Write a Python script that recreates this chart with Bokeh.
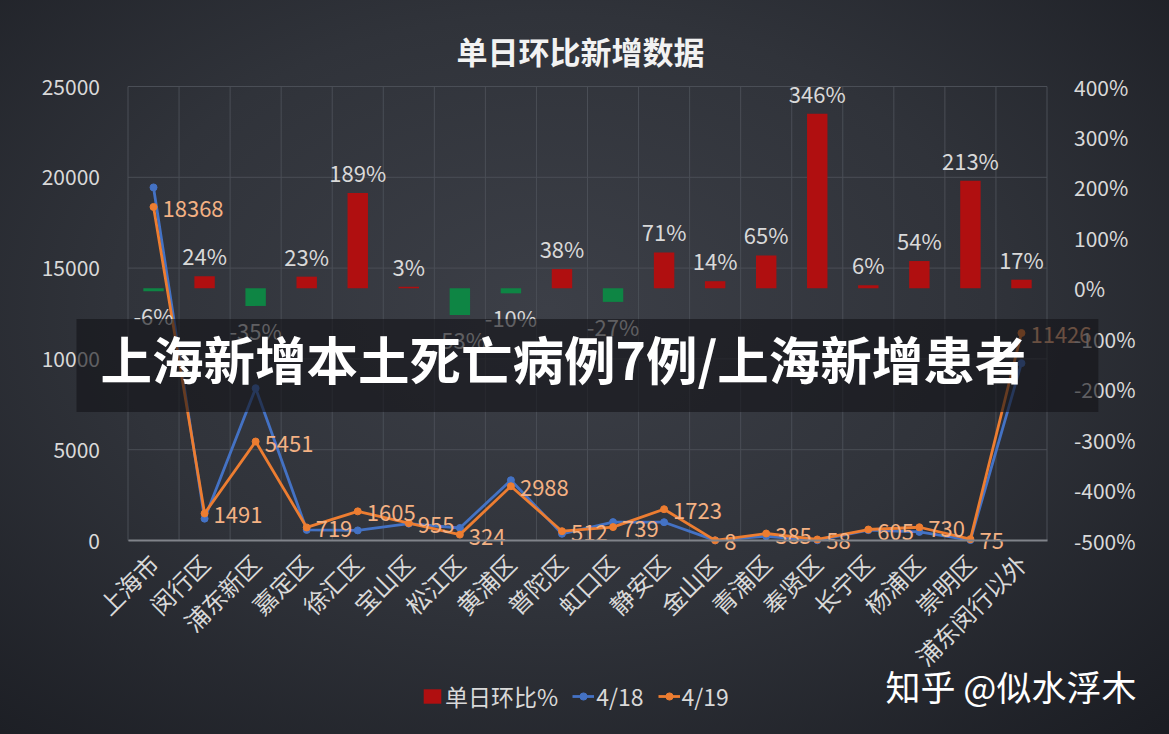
import math
from bokeh.plotting import figure
from bokeh.models import (ColumnDataSource, Range1d, LinearAxis, FixedTicker,
                          PrintfTickFormatter, Legend, LegendItem, Label)
from bokeh.embed import file_html
from bokeh.resources import INLINE

# ---------------- data ----------------
districts = ["上海市", "闵行区", "浦东新区", "嘉定区", "徐汇区", "宝山区", "松江区", "黄浦区",
             "普陀区", "虹口区", "静安区", "金山区", "青浦区", "奉贤区", "长宁区", "杨浦区",
             "崇明区", "浦东闵行以外"]
cases_0418 = [19442, 1202, 8386, 585, 555, 927, 689, 3320, 371, 1012, 1008, 7, 233, 13,
              571, 474, 24, 9766]
cases_0419 = [18368, 1491, 5451, 719, 1605, 955, 324, 2988, 512, 739, 1723, 8, 385, 58,
              605, 730, 75, 11426]
pct_change = [-6, 24, -35, 23, 189, 3, -53, -10, 38, -27, 71, 14, 65, 346, 6, 54, 213, 17]
left_ticks = [0, 5000, 10000, 15000, 20000, 25000]
right_ticks = [-500, -400, -300, -200, -100, 0, 100, 200, 300, 400]

title_text = "单日环比新增数据"
banner_text = "上海新增本土死亡病例7例/上海新增患者"
watermark_text = "知乎 @似水浮木"

FONT = "Noto Sans CJK SC"
TXT = "#d9d9d9"
RED = "#b00f10"
GREEN = "#0e8544"
BLUE = "#4472c4"
ORANGE = "#ed7d31"
ORANGE_LBL = "#f4b183"
GRID = "#4a4e56"

# ---------------- layout (pixels) ----------------
W, H = 1169, 734
PL, PR, PT, PB = 127.5, 1046.5, 86, 540   # plot area edges
n = len(districts)
L_MIN, L_MAX = left_ticks[0], left_ticks[-1]
R_MIN, R_MAX = right_ticks[0], right_ticks[-1]
cat_px = (PR - PL) / n
ly_px = (L_MAX - L_MIN) / (PB - PT)
ry_px = (R_MAX - R_MIN) / (PB - PT)
x_range = Range1d(-0.5 - PL / cat_px, n - 0.5 + (W - PR) / cat_px)
y_range = Range1d(L_MIN - (H - PB) * ly_px, L_MAX + PT * ly_px)
pct_range = Range1d(R_MIN - (H - PB) * ry_px, R_MAX + PT * ry_px)

idx = list(range(n))
bar_colors = [RED if v >= 0 else GREEN for v in pct_change]

src = ColumnDataSource(dict(x=idx, d18=cases_0418, d19=cases_0419, pct=pct_change,
                            color=bar_colors,
                            lbl19=[str(v) for v in cases_0419]))
pos = [i for i, v in enumerate(pct_change) if v >= 0]
neg = [i for i, v in enumerate(pct_change) if v < 0]
src_pos = ColumnDataSource(dict(x=pos, y=[pct_change[i] for i in pos],
                                t=[f"{pct_change[i]}%" for i in pos]))
src_neg = ColumnDataSource(dict(x=neg, y=[pct_change[i] for i in neg],
                                t=[f"{pct_change[i]}%" for i in neg]))

# ---------------- figure ----------------
p = figure(width=W, height=H, output_backend="svg", toolbar_location=None, title=None,
           x_range=x_range, y_range=y_range,
           min_border_left=0, min_border_right=0, min_border_top=0, min_border_bottom=0)
p.extra_y_ranges = {"pct": pct_range}
p.border_fill_color = None
p.background_fill_color = None
p.outline_line_color = None
p.styles = {"background": "radial-gradient(ellipse 75% 80% at 47% 42%, #3c3f47 0%, #30333a 50%, #1b1d23 100%)"}
p.xgrid.grid_line_color = None
p.ygrid.grid_line_color = None

# grid lines limited to the plot area
bounds = [i - 0.5 for i in range(n + 1)]
p.segment(x0=bounds, x1=bounds, y0=[L_MIN] * len(bounds), y1=[L_MAX] * len(bounds),
          line_color=GRID, line_width=1)
p.segment(x0=[-0.5] * len(left_ticks), x1=[n - 0.5] * len(left_ticks),
          y0=left_ticks, y1=left_ticks, line_color=GRID, line_width=1)

# x axis
xa = p.xaxis[0]
xa.fixed_location = L_MIN
xa.bounds = (-0.5, n - 0.5)
xa.ticker = FixedTicker(ticks=idx)
xa.major_label_overrides = {i: name for i, name in enumerate(districts)}
xa.major_label_orientation = math.pi / 4
xa.major_label_text_font = FONT
xa.major_label_text_font_size = "24px"
xa.major_label_text_color = TXT
xa.major_label_standoff = 12
xa.axis_line_color = "#80838a"
xa.axis_line_width = 2
xa.major_tick_line_color = None
xa.minor_tick_line_color = None

# left axis
ya = p.yaxis[0]
ya.fixed_location = -0.5
ya.bounds = (L_MIN, L_MAX)
ya.ticker = FixedTicker(ticks=left_ticks)
ya.axis_line_color = None
ya.major_tick_line_color = None
ya.minor_tick_line_color = None
ya.major_label_text_font = FONT
ya.major_label_text_font_size = "21px"
ya.major_label_text_color = TXT
ya.major_label_standoff = 22

# right axis
ra = LinearAxis(y_range_name="pct", ticker=FixedTicker(ticks=right_ticks),
                formatter=PrintfTickFormatter(format="%d%%"), fixed_location=n - 0.5,
                bounds=(R_MIN, R_MAX))
ra.axis_line_color = None
ra.major_tick_line_color = None
ra.minor_tick_line_color = None
ra.major_label_text_font = FONT
ra.major_label_text_font_size = "21px"
ra.major_label_text_color = TXT
ra.major_label_standoff = 21
p.add_layout(ra, "right")

# bars
bars = p.vbar(x="x", top="pct", bottom=0, width=0.4, fill_color="color", line_color=None,
              source=src, y_range_name="pct")

# lines
l18 = p.line("x", "d18", source=src, line_color=BLUE, line_width=2.8)
s18 = p.scatter("x", "d18", source=src, size=7, fill_color=BLUE, line_color=BLUE)
l19 = p.line("x", "d19", source=src, line_color=ORANGE, line_width=2.8)
s19 = p.scatter("x", "d19", source=src, size=7, fill_color=ORANGE, line_color=ORANGE)

# labels
p.text("x", "d19", text="lbl19", source=src, text_font={"value": FONT},
       text_font_size="22px", text_color=ORANGE_LBL, text_align="left",
       text_baseline="middle", x_offset=9, y_offset=2)
p.text("x", "y", text="t", source=src_pos, y_range_name="pct", text_font={"value": FONT},
       text_font_size="22px", text_color=TXT, text_align="center",
       text_baseline="bottom", y_offset=-5)
p.text("x", "y", text="t", source=src_neg, y_range_name="pct", text_font={"value": FONT},
       text_font_size="22px", text_color=TXT, text_align="center",
       text_baseline="top", y_offset=8)

# title
p.add_layout(Label(x=580, y=H - 50, x_units="screen", y_units="screen", text=title_text,
                   text_font=FONT, text_font_size="31px", text_font_style="bold",
                   text_color="#f2f2f2", text_align="center", text_baseline="middle"))

# legend
first_pos = pos[0]
legend = Legend(items=[LegendItem(label="单日环比%", renderers=[bars], index=first_pos),
                       LegendItem(label="4/18", renderers=[l18, s18]),
                       LegendItem(label="4/19", renderers=[l19, s19])],
                orientation="horizontal", location=(421, 21),
                label_text_font=FONT, label_text_font_size="23px", label_text_color=TXT,
                background_fill_alpha=0, border_line_color=None, padding=0, margin=0,
                glyph_width=22, glyph_height=18, label_standoff=2, spacing=14)
p.add_layout(legend, "center")

# banner overlay
banner = Label(x=76, y=H - 365, x_units="screen", y_units="screen", text=banner_text,
               text_font=FONT, text_font_size="51.5px", text_font_style="bold",
               text_color="#ffffff", text_align="left", text_baseline="middle",
               background_fill_color="#131418", background_fill_alpha=0.62,
               padding=dict(left=24, right=72, top=1, bottom=17))
p.add_layout(banner)

# watermark
p.add_layout(Label(x=885, y=H - 685, x_units="screen", y_units="screen",
                   text=watermark_text, text_font=FONT, text_font_size="35px",
                   text_color="#ffffff", text_align="left", text_baseline="middle"))

open("out.html", "w").write(file_html(p, INLINE))
